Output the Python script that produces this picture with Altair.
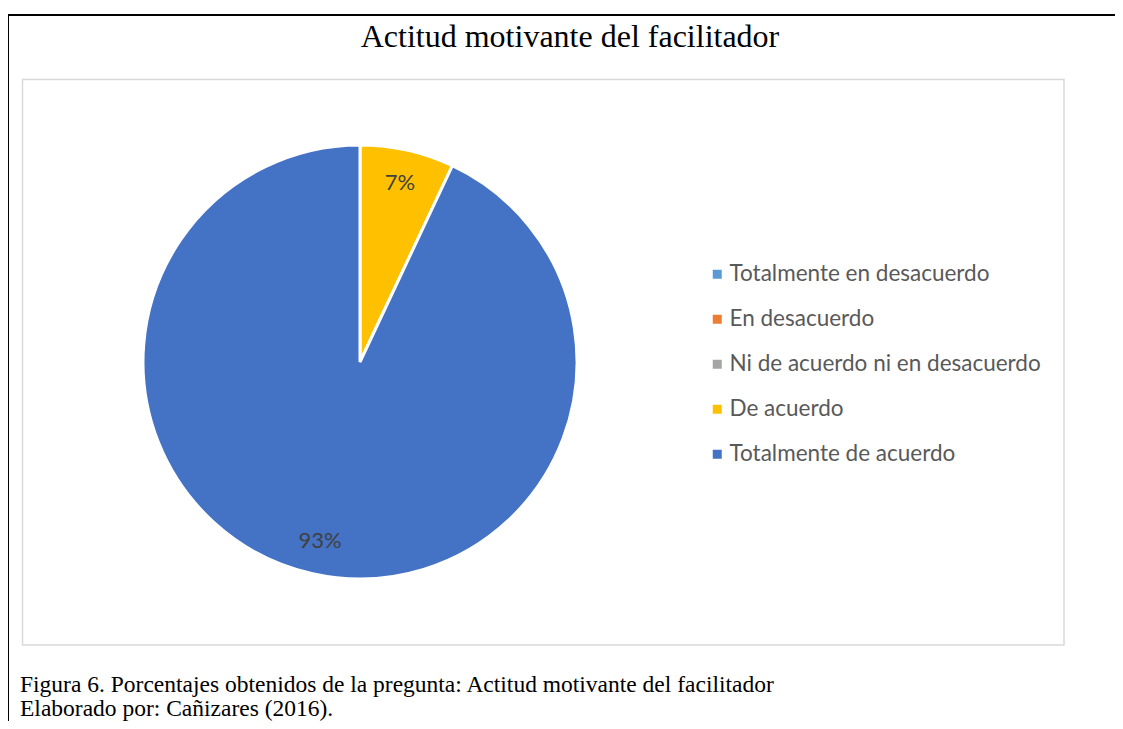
import altair as alt
import pandas as pd

# ---- data ----
categories = ["Totalmente en desacuerdo", "En desacuerdo",
              "Ni de acuerdo ni en desacuerdo", "De acuerdo",
              "Totalmente de acuerdo"]
colors = ["#5B9BD5", "#ED7D31", "#A5A5A5", "#FFC000", "#4472C4"]
slice_cats = ["De acuerdo", "Totalmente de acuerdo"]
slice_vals = [7, 93]
slice_order = [1, 2]

title_text = "Actitud motivante del facilitador"
caption_1 = "Figura 6. Porcentajes obtenidos de la pregunta: Actitud motivante del facilitador"
caption_2 = "Elaborado por: Cañizares (2016)."

df = pd.DataFrame({
    "cat": slice_cats,
    "value": slice_vals,
    "ord": slice_order,
    "label": [f"{v}%" for v in slice_vals],
})

W, H = 1107, 713
CX, CY = 352, 354
dummy = pd.DataFrame({"a": [0]})

# ---- frames ----
top_line = alt.Chart(dummy).mark_rule(color="black", strokeWidth=2).encode(
    x=alt.value(0), x2=alt.value(W), y=alt.value(7))
left_line = alt.Chart(dummy).mark_rule(color="black", strokeWidth=2).encode(
    x=alt.value(0), y=alt.value(6), y2=alt.value(H))
inner_box = alt.Chart(dummy).mark_rect(
    fill="white", stroke="#D9D9D9", strokeWidth=1.5).encode(
    x=alt.value(14.5), x2=alt.value(1056), y=alt.value(71.5), y2=alt.value(637))

# ---- pie ----
base = alt.Chart(df).encode(
    theta=alt.Theta("value:Q", stack=True),
    order=alt.Order("ord:Q"),
)
pie = base.mark_arc(outerRadius=217, stroke="white", strokeWidth=3).encode(
    x=alt.value(CX), y=alt.value(CY),
    color=alt.Color(
        "cat:N",
        scale=alt.Scale(domain=categories, range=colors),
        legend=alt.Legend(
            title=None, orient="none", legendX=698, legendY=255,
            symbolType="square", symbolSize=81, symbolStrokeWidth=0,
            labelFont="Lato", labelFontSize=22.5, labelColor="#595959",
            labelOffset=1, rowPadding=22, padding=0, labelLimit=0,
        ),
    ),
)
labels = base.mark_text(radius=183, font="Lato", fontSize=22,
                        color="#404040").encode(
    x=alt.value(CX), y=alt.value(CY), text="label:N")

# ---- texts ----
title = alt.Chart(dummy).mark_text(
    font="Liberation Serif", fontSize=32, align="center",
    baseline="alphabetic", color="black", text=title_text).encode(
    x=alt.value(562), y=alt.value(39))
cap1 = alt.Chart(dummy).mark_text(
    font="Liberation Serif", fontSize=23.5, align="left",
    baseline="alphabetic", color="black", text=caption_1).encode(
    x=alt.value(12), y=alt.value(684))
cap2 = alt.Chart(dummy).mark_text(
    font="Liberation Serif", fontSize=23.5, align="left",
    baseline="alphabetic", color="black", text=caption_2).encode(
    x=alt.value(12), y=alt.value(708))

chart = alt.layer(top_line, left_line, inner_box, pie, labels, title, cap1, cap2).properties(
    width=W, height=H,
    autosize=alt.AutoSizeParams(type="none"),
    padding=0,
    background="white",
).configure_view(stroke=None)

chart.save("out.html", embed_options={"renderer": "svg", "actions": False})
